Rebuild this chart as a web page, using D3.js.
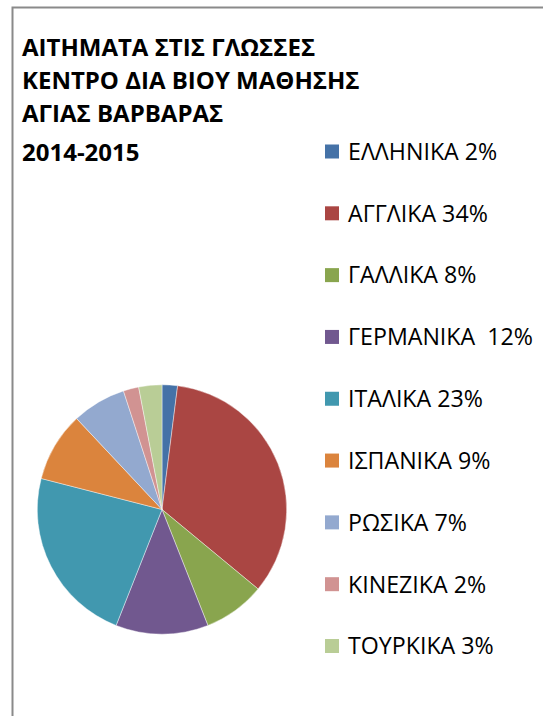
<!DOCTYPE html>
<html>
<head>
<meta charset="utf-8">
<script src="https://cdn.jsdelivr.net/npm/d3@7"></script>
<style>
  body { margin: 0; background: #fff; }
  svg { display: block; }
</style>
</head>
<body>
<div id="wrapper"></div>
<script>
// data
const titleLines = ["ΑΙΤΗΜΑΤΑ ΣΤΙΣ ΓΛΩΣΣΕΣ", "ΚΕΝΤΡΟ ΔΙΑ ΒΙΟΥ ΜΑΘΗΣΗΣ", "ΑΓΙΑΣ ΒΑΡΒΑΡΑΣ", "2014-2015"]
const languages = ["ΕΛΛΗΝΙΚΑ", "ΑΓΓΛΙΚΑ", "ΓΑΛΛΙΚΑ", "ΓΕΡΜΑΝΙΚΑ ", "ΙΤΑΛΙΚΑ", "ΙΣΠΑΝΙΚΑ", "ΡΩΣΙΚΑ", "ΚΙΝΕΖΙΚΑ", "ΤΟΥΡΚΙΚΑ"]
const percents = [2, 34, 8, 12, 23, 9, 7, 2, 3]
const colors = ["#4572A7", "#AA4643", "#89A54E", "#71588F", "#4198AF", "#DB843D", "#93A9CF", "#D19392", "#B9CD96"]

function drawChart() {
  const dimensions = { width: 543, height: 716 }

  const svg = d3.select("#wrapper")
    .append("svg")
      .attr("width", dimensions.width)
      .attr("height", dimensions.height)

  // frame (only top and left edges visible in the crop)
  svg.append("rect")
      .attr("x", 12.5)
      .attr("y", 7.5)
      .attr("width", dimensions.width + 20)
      .attr("height", dimensions.height + 20)
      .attr("fill", "none")
      .attr("stroke", "#8a8a8a")
      .attr("stroke-width", 2)

  // title
  const fontFamily = "'Open Sans', 'Noto Sans', 'DejaVu Sans', sans-serif"
  const titleBaselines = [55.5, 88.5, 121.5, 161]
  svg.append("g")
    .selectAll("text")
    .data(titleLines)
    .join("text")
      .attr("x", 22)
      .attr("y", (d, i) => titleBaselines[i])
      .attr("font-family", fontFamily)
      .attr("font-weight", "bold")
      .attr("font-size", 24)
      .attr("fill", "#000")
      .text(d => d)

  // pie
  const data = languages.map((name, i) => ({ name, value: percents[i], color: colors[i] }))
  const pie = d3.pie().sort(null).value(d => d.value)
  const arc = d3.arc().innerRadius(0).outerRadius(124.7)

  svg.append("g")
      .attr("transform", "translate(162, 509.5)")
    .selectAll("path")
    .data(pie(data))
    .join("path")
      .attr("d", arc)
      .attr("fill", d => d.data.color)
      .attr("stroke", "#fff")
      .attr("stroke-width", 0.6)
      .attr("stroke-opacity", 0.7)

  // legend
  const legendY = d3.scalePoint()
    .domain(d3.range(data.length))
    .range([151.5, 646])

  const legend = svg.append("g")
    .selectAll("g")
    .data(data)
    .join("g")
      .attr("transform", (d, i) => `translate(325, ${legendY(i)})`)

  legend.append("rect")
      .attr("x", 0)
      .attr("y", -7)
      .attr("width", 14)
      .attr("height", 14)
      .attr("fill", d => d.color)

  legend.append("text")
      .attr("x", 23)
      .attr("y", 8.3)
      .attr("font-family", fontFamily)
      .attr("font-size", 23.2)
      .attr("fill", "#000")
      .style("white-space", "pre")
      .text(d => `${d.name} ${d.value}%`)
}

drawChart()
</script>
</body>
</html>
